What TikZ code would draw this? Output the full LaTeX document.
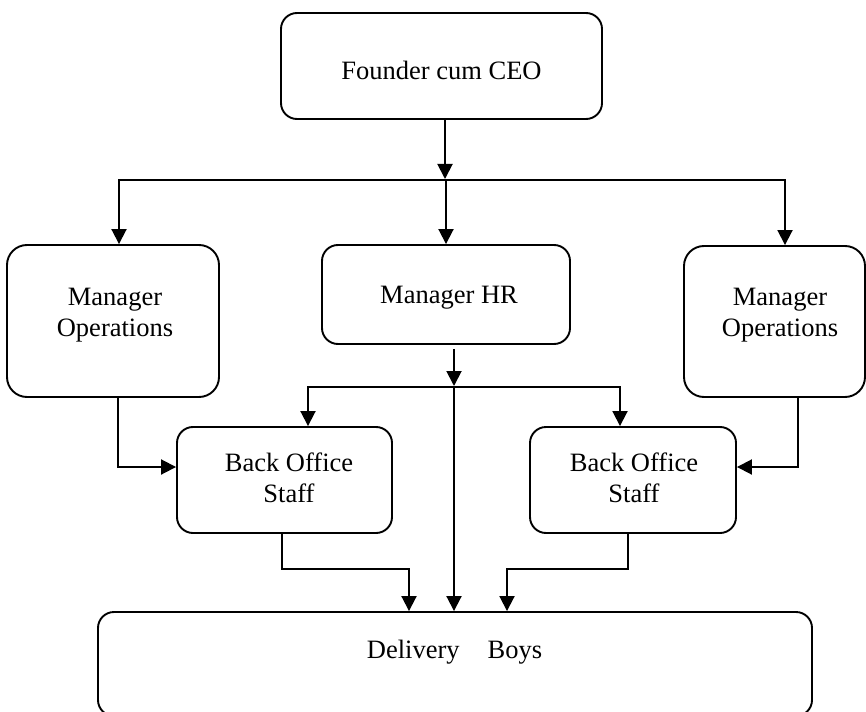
\documentclass[tikz,border=0pt]{standalone}
\usepackage{fontspec}
\setmainfont{Liberation Serif}
\usepackage{tikz}
\usetikzlibrary{arrows.meta}

\begin{document}
\begin{tikzpicture}[x=1bp, y=-1bp,
    box/.style={draw, line width=1.9bp, rounded corners=16bp, inner sep=0pt},
    tallbox/.style={box, rounded corners=20bp},
    lbl/.style={font=\fontsize{26.5bp}{31bp}\selectfont, align=center, inner sep=0pt},
    conn/.style={line width=1.9bp},
    arr/.style={conn, -{Triangle[length=15bp, width=15bp]}}]
    \useasboundingbox (0,0) rectangle (866,712);

    \node[box, minimum width=321bp, minimum height=106bp] (ceo) at (441.5,66) {};
    \node[tallbox, minimum width=212bp, minimum height=152bp] (mopl) at (113,321) {};
    \node[box, minimum width=248bp, minimum height=99bp] (mhr) at (446,294.5) {};
    \node[tallbox, minimum width=181bp, minimum height=151bp] (mopr) at (774.5,321.5) {};
    \node[box, minimum width=215bp, minimum height=106bp] (bol) at (284.5,480) {};
    \node[box, minimum width=206bp, minimum height=106bp] (bor) at (633,480) {};
    \node[box, minimum width=714bp, minimum height=104bp] (dlv) at (455,664) {};

    \node[lbl, anchor=base] (ceotext) at (441.5,80) {Founder cum CEO};
    \node[lbl] (mopltext) at (115,315) {Manager\\Operations};
    \node[lbl, anchor=base] (mhrtext) at (449,303) {Manager HR};
    \node[lbl] (moprtext) at (780,315) {Manager\\Operations};
    \node[lbl] (boltext) at (289,478) {Back Office\\Staff};
    \node[lbl] (bortext) at (634,478) {Back Office\\Staff};
    \node[lbl, anchor=base] (dlvtext) at (454.5,658) {Delivery\hspace{28bp}Boys};

    \coordinate (ceodrop) at (445,179);
    \coordinate (busM) at (446,180);
    \coordinate (busL) at (119,180);
    \coordinate (busR) at (785,180);
    \draw[arr] (ceodrop |- ceo.south) -- (ceodrop);
    \draw[arr] (busM) -- (busL) -- (busL |- mopl.north);
    \draw[arr] (busM) -- (busR) -- (busR |- mopr.north);
    \draw[arr] (busM) -- (busM |- mhr.north);

    \coordinate (hrdrop) at (454,386);
    \coordinate (hrbus) at (454,387);
    \coordinate (hrbusL) at (308,387);
    \coordinate (hrbusR) at (620,387);
    \draw[arr, shorten <=4bp] (hrdrop |- mhr.south) -- (hrdrop);
    \draw[arr] (hrbus) -- (hrbusL) -- (hrbusL |- bol.north);
    \draw[arr] (hrbus) -- (hrbusR) -- (hrbusR |- bor.north);
    \draw[arr] (hrbus) -- (hrbus |- dlv.north);

    \coordinate (elbowL) at (118,467);
    \coordinate (elbowR) at (798,467);
    \draw[arr] (elbowL |- mopl.south) -- (elbowL) -- (elbowL -| bol.west);
    \draw[arr] (elbowR |- mopr.south) -- (elbowR) -- (elbowR -| bor.east);

    \coordinate (stepL) at (282,569);
    \coordinate (dropL) at (409,569);
    \coordinate (stepR) at (628,569);
    \coordinate (dropR) at (507,569);
    \draw[arr] (stepL |- bol.south) -- (stepL) -- (dropL) -- (dropL |- dlv.north);
    \draw[arr] (stepR |- bor.south) -- (stepR) -- (dropR) -- (dropR |- dlv.north);
\end{tikzpicture}
\end{document}
